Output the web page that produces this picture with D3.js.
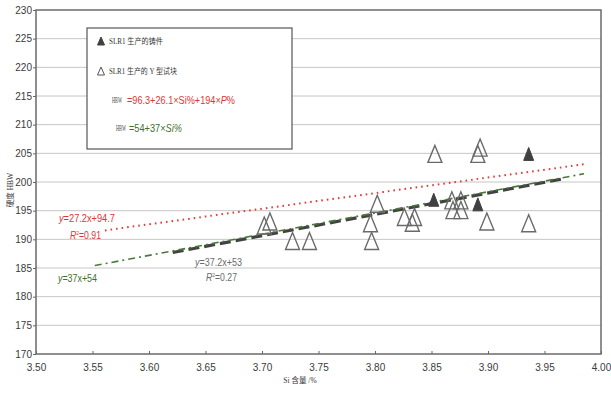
<!DOCTYPE html>
<html>
<head>
<meta charset="utf-8">
<script src="https://cdn.jsdelivr.net/npm/d3@7"></script>
<style>
  body { margin: 0; background: #fff; }
  text { font-family: "Liberation Sans", Arial, sans-serif; }
</style>
</head>
<body>
<svg id="chart" width="611" height="394"></svg>
<script>
// Si content (%) and hardness (HBW)
const castingSi = [3.852, 3.891, 3.936];
const castingHB = [196.9, 196.1, 204.9];

const blockSi = [3.702, 3.707, 3.727, 3.742, 3.796, 3.797, 3.802, 3.826, 3.835, 3.833,
                 3.853, 3.868, 3.876, 3.869, 3.876, 3.893, 3.891, 3.899, 3.936];
const blockHB = [192.4, 193.1, 189.7, 189.7, 192.8, 189.7, 196.2, 193.9, 193.9, 192.9,
                 204.9, 196.8, 196.8, 195.1, 195.1, 206.0, 204.9, 193.1, 192.8];

const xTicks = [3.50, 3.55, 3.60, 3.65, 3.70, 3.75, 3.80, 3.85, 3.90, 3.95, 4.00];
const yTicks = [170, 175, 180, 185, 190, 195, 200, 205, 210, 215, 220, 225, 230];

// fitted lines: slope, intercept, x range
const fitRed = { a: 27.2, b: 94.7, x0: 3.561, x1: 3.985 };
const fitGreen = { a: 37, b: 54, x0: 3.552, x1: 3.985 };
const fitGray = { a: 37.2, b: 53, x0: 3.621, x1: 3.965 };

const svg = d3.select("#chart");
const mLeft = 36, mRight = 601, mTop = 10, mBottom = 354;

const x = d3.scaleLinear().domain([3.5, 4.0]).range([mLeft, mRight]);
const y = d3.scaleLinear().domain([170, 230]).range([mBottom, mTop]);

svg.append("rect").attr("width", 611).attr("height", 394).attr("fill", "#fff");

// grid
svg.append("g").selectAll("line")
  .data(yTicks.filter(d => d > 170 && d < 230))
  .join("line")
  .attr("x1", mLeft).attr("x2", mRight)
  .attr("y1", d => y(d)).attr("y2", d => y(d))
  .attr("stroke", "#c6c6c6").attr("stroke-width", 1);

// axes
const yAxis = svg.append("g").attr("transform", `translate(${mLeft},0)`)
  .call(d3.axisLeft(y).tickValues(yTicks).tickSize(3).tickSizeOuter(0).tickFormat(d3.format("d")));
const xAxis = svg.append("g").attr("transform", `translate(0,${mBottom})`)
  .call(d3.axisBottom(x).tickValues(xTicks).tickSize(-3).tickSizeOuter(0).tickFormat(d3.format(".2f")));
[yAxis, xAxis].forEach(g => {
  g.select(".domain").remove();
  g.selectAll("line").attr("stroke", "#666");
  g.selectAll("text").attr("fill", "#3a3a3a").style("font-size", "10px");
});
yAxis.selectAll("text").attr("x", -4);
xAxis.selectAll("text").attr("y", 10);

// frame
svg.append("rect")
  .attr("x", mLeft).attr("y", mTop)
  .attr("width", mRight - mLeft).attr("height", mBottom - mTop)
  .attr("fill", "none").attr("stroke", "#6a6a6a").attr("stroke-width", 1.5);

// fitted lines
const lineGen = d3.line().x(d => x(d[0])).y(d => y(d[1]));
function pts(f) { return [[f.x0, f.a * f.x0 + f.b], [f.x1, f.a * f.x1 + f.b]]; }

svg.append("path").datum(pts(fitGray)).attr("d", lineGen)
  .attr("fill", "none").attr("stroke", "#424242").attr("stroke-width", 3.2)
  .attr("stroke-dasharray", "11,5");
svg.append("path").datum(pts(fitGreen)).attr("d", lineGen)
  .attr("fill", "none").attr("stroke", "#4a7a3a").attr("stroke-width", 1.6)
  .attr("stroke-dasharray", "7,4,2,4");
svg.append("path").datum(pts(fitRed)).attr("d", lineGen)
  .attr("fill", "none").attr("stroke", "#e43a3a").attr("stroke-width", 2)
  .attr("stroke-dasharray", "1.6,4");

// triangles
function tri(w, h) { return `M0,${-h / 2}L${w / 2},${h / 2}L${-w / 2},${h / 2}Z`; }

svg.append("g").selectAll("path")
  .data(d3.zip(blockSi, blockHB))
  .join("path")
  .attr("transform", d => `translate(${x(d[0])},${y(d[1])})`)
  .attr("d", tri(14, 17))
  .attr("fill", "none").attr("stroke", "#6a6a6a").attr("stroke-width", 1.4);

svg.append("g").selectAll("path")
  .data(d3.zip(castingSi, castingHB))
  .join("path")
  .attr("transform", d => `translate(${x(d[0])},${y(d[1])})`)
  .attr("d", tri(10, 13))
  .attr("fill", "#404040").attr("stroke", "#404040").attr("stroke-width", 1);

// rich labels, squeezed horizontally to the width seen in the picture
function label(px, py, color, parts, size, len, family) {
  const t = svg.append("text").attr("x", 0).attr("y", 0)
    .attr("fill", color).style("font-size", (size || 10.5) + "px");
  if (family) t.style("font-family", family);
  parts.forEach(p => {
    const s = t.append("tspan").text(p.t);
    if (p.i) s.style("font-style", "italic");
    if (p.sup) s.attr("dy", -4).style("font-size", "6px");
    if (p.down) s.attr("dy", 4);
  });
  const w = t.node().getComputedTextLength();
  const sx = len && w ? len / w : 1;
  t.attr("transform", `translate(${px},${py}) scale(${sx},1)`);
  return t;
}
label(59, 222, "#e03535", [{ t: "y", i: true }, { t: "=27.2x+94.7" }], 10.5, 56);
label(70, 239, "#e03535", [{ t: "R", i: true }, { t: "2", sup: true }, { t: "=0.91", down: true }], 10.5, 31);
label(195, 266, "#6a6a6a", [{ t: "y", i: true }, { t: "=37.2x+53" }], 10.5, 47);
label(206, 281, "#6a6a6a", [{ t: "R", i: true }, { t: "2", sup: true }, { t: "=0.27", down: true }], 10.5, 31);
label(58, 282, "#3f6e2f", [{ t: "y", i: true }, { t: "=37x+54" }], 10.5, 39);

// legend
svg.append("rect").attr("x", 87).attr("y", 28).attr("width", 205).attr("height", 121)
  .attr("fill", "#fff").attr("stroke", "#555").attr("stroke-width", 1.2);
svg.append("path").attr("transform", "translate(101,41)").attr("d", tri(7, 8))
  .attr("fill", "#404040").attr("stroke", "#404040");
svg.append("path").attr("transform", "translate(101,71)").attr("d", tri(7, 8))
  .attr("fill", "none").attr("stroke", "#555").attr("stroke-width", 1);
const serif = '"Liberation Serif", "Noto Sans CJK SC", serif';
label(109, 44, "#333", [{ t: "SLR1 生产的铸件" }], 7.5, 54, serif);
label(109, 74, "#333", [{ t: "SLR1 生产的 Y 型试块" }], 7.5, 68, serif);

label(112, 103, "#444", [{ t: "HBW" }], 7.5, 10, serif);
label(127, 104, "#e03535", [{ t: "=96.3+26.1×Si%+194×" }, { t: "P", i: true }, { t: "%" }], 11, 108);
label(116, 131, "#444", [{ t: "HBW" }], 7.5, 10, serif);
label(129, 132, "#3f6e2f", [{ t: "=54+37×" }, { t: "Si%", i: true }], 11, 53);

// axis titles
svg.append("text").attr("transform", "translate(13,190) rotate(-90)")
  .attr("text-anchor", "middle").text("硬度 HBW")
  .style("font-family", serif).style("font-size", "7.5px").attr("fill", "#333");
svg.append("text").attr("x", 300).attr("y", 383).attr("text-anchor", "middle")
  .text("Si 含量 /%")
  .style("font-family", serif).style("font-size", "7.5px").attr("fill", "#333");
</script>
</body>
</html>
